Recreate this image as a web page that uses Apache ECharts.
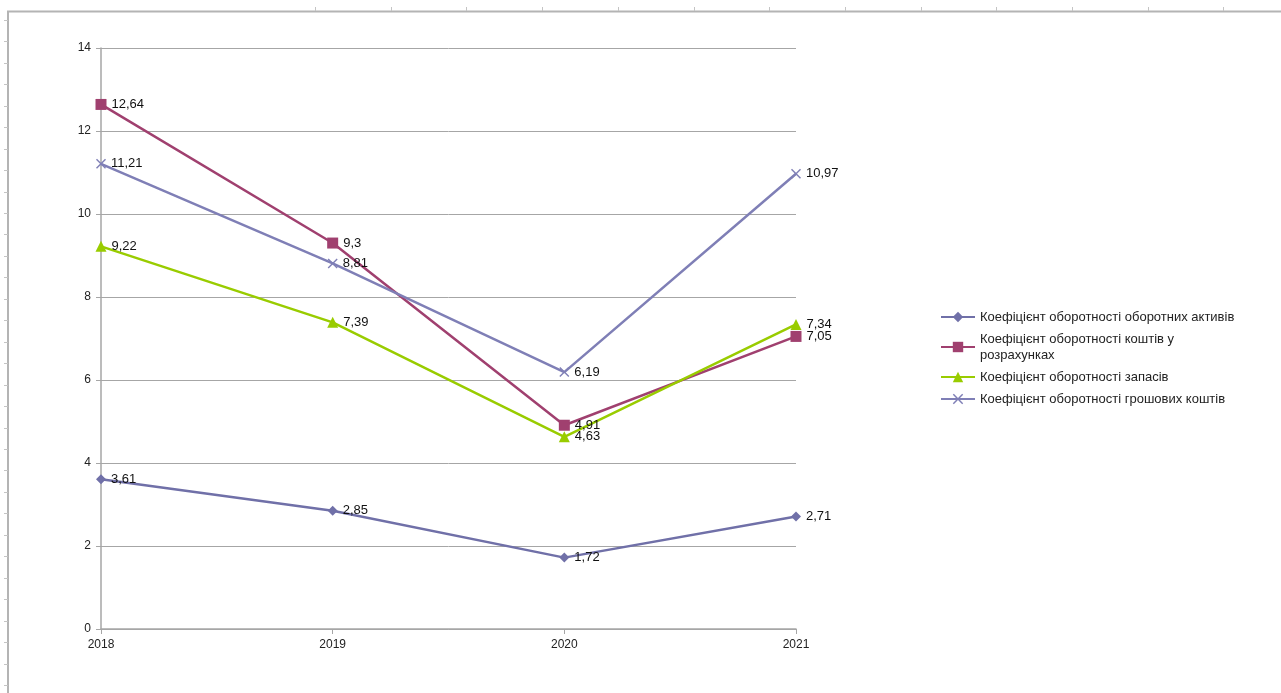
<!DOCTYPE html>
<html>
<head>
<meta charset="utf-8">
<script src="https://cdn.jsdelivr.net/npm/echarts@6/dist/echarts.min.js"></script>
<style>
  html, body { margin: 0; padding: 0; background: #fff; }
  #chart { width: 1281px; height: 693px; }
</style>
</head>
<body>
<div id="chart"></div>
<script>
// Years on the category axis
const years = ['2018', '2019', '2020', '2021'];

// Turnover ratios
const currentAssets = [3.61, 2.85, 1.72, 2.71];
const receivables = [12.64, 9.3, 4.91, 7.05];
const inventories = [9.22, 7.39, 4.63, 7.34];
const cashFunds = [11.21, 8.81, 6.19, 10.97];

const seriesNames = [
  'Коефіцієнт оборотності оборотних активів',
  'Коефіцієнт оборотності коштів у\nрозрахунках',
  'Коефіцієнт оборотності запасів',
  'Коефіцієнт оборотності грошових коштів'
];

const FONT = '"Liberation Sans", Arial, sans-serif';
const crossPath = 'path://M1,0 L5,4 L9,0 L10,1 L6,5 L10,9 L9,10 L5,6 L1,10 L0,9 L4,5 L0,1 Z';

function fmt(p) { return String(p.value).replace('.', ','); }

function makeSeries(name, data, color, symbol, size) {
  return {
    name: name,
    type: 'line',
    data: data,
    symbol: symbol,
    symbolSize: size,
    lineStyle: { color: color, width: 2.5 },
    itemStyle: { color: color },
    label: {
      show: true,
      position: 'right',
      distance: 5,
      color: '#111',
      fontFamily: FONT,
      fontSize: 13,
      formatter: fmt
    },
    emphasis: { disabled: true },
    animation: false
  };
}

// Sheet frame with row / column tick marks
const frame = [];
frame.push({
  type: 'polyline',
  shape: { points: [[8, 693], [8, 11.5], [1281, 11.5]] },
  style: { stroke: '#B4B4B4', lineWidth: 2, fill: null },
  silent: true
});
for (let y = 20; y < 693; y += 21.45) {
  frame.push({
    type: 'line',
    shape: { x1: 4, y1: Math.round(y) + 0.5, x2: 8, y2: Math.round(y) + 0.5 },
    style: { stroke: '#C4C4C4', lineWidth: 1 },
    silent: true
  });
}
for (let x = 315; x < 1281; x += 75.7) {
  frame.push({
    type: 'line',
    shape: { x1: Math.round(x) + 0.5, y1: 7, x2: Math.round(x) + 0.5, y2: 11 },
    style: { stroke: '#C4C4C4', lineWidth: 1 },
    silent: true
  });
}

const chart = echarts.init(document.getElementById('chart'), null, { renderer: 'canvas' });
chart.setOption({
  backgroundColor: '#fff',
  animation: false,
  graphic: frame,
  grid: { left: 101, right: 485, top: 48, bottom: 64, containLabel: false },
  xAxis: {
    type: 'category',
    data: years,
    boundaryGap: false,
    axisLine: { lineStyle: { color: '#A6A6A6', width: 1.5 } },
    axisTick: { show: true, alignWithLabel: true, length: 5, lineStyle: { color: '#A6A6A6' } },
    axisLabel: { color: '#222', fontFamily: FONT, fontSize: 12, margin: 10 },
    splitLine: { show: false }
  },
  yAxis: {
    type: 'value',
    min: 0,
    max: 14,
    interval: 2,
    axisLine: { show: true, lineStyle: { color: '#A6A6A6', width: 1.5 } },
    axisTick: { show: true, length: 5, lineStyle: { color: '#A6A6A6' } },
    axisLabel: { color: '#222', fontFamily: FONT, fontSize: 12, margin: 10 },
    splitLine: { show: true, lineStyle: { color: '#A6A6A6', width: 1 } }
  },
  legend: {
    orient: 'vertical',
    left: 935,
    top: 304,
    itemWidth: 34,
    itemHeight: 13,
    itemGap: 6,
    textStyle: { color: '#222', fontFamily: FONT, fontSize: 13, lineHeight: 16 },
    data: seriesNames
  },
  series: [
    makeSeries(seriesNames[0], currentAssets, '#7070A8', 'diamond', 10),
    makeSeries(seriesNames[1], receivables, '#A0406F', 'rect', 11),
    makeSeries(seriesNames[2], inventories, '#99CC00', 'triangle', 11),
    makeSeries(seriesNames[3], cashFunds, '#7F7FB6', crossPath, 10)
  ]
});
</script>
</body>
</html>
